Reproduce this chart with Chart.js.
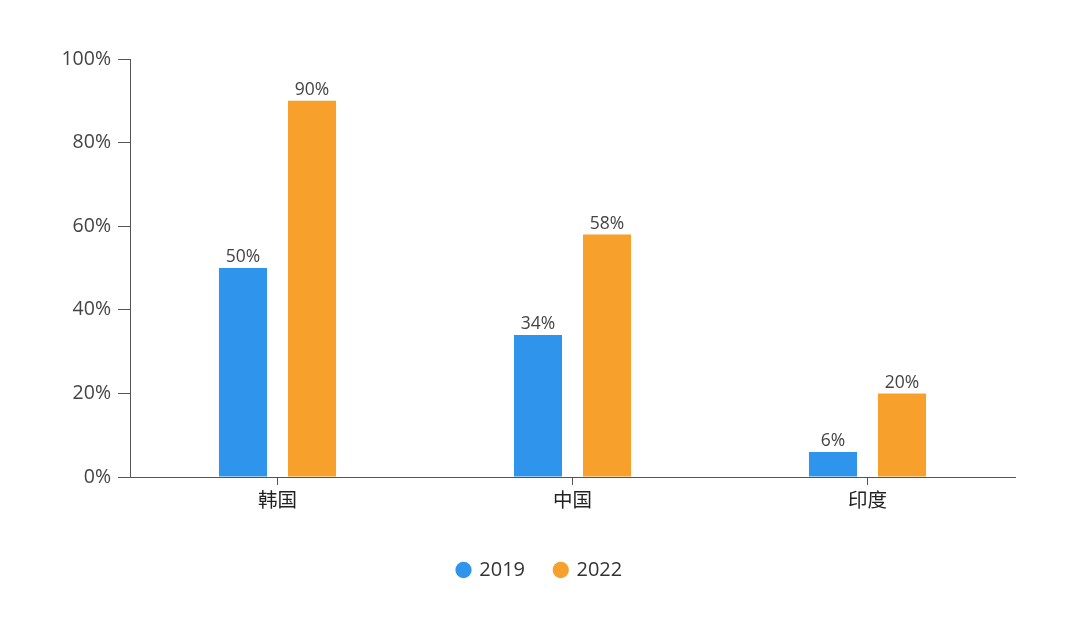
<!DOCTYPE html>
<html>
<head>
<meta charset="utf-8">
<script src="https://cdn.jsdelivr.net/npm/chart.js@4/dist/chart.umd.min.js"></script>
<style>
html,body{margin:0;padding:0;background:#fff;}
#wrap{width:1080px;height:624px;}
</style>
</head>
<body>
<div id="wrap"><canvas id="c" width="1080" height="624"></canvas></div>
<script>
const categories = ['韩国', '中国', '印度'];
const series2019 = [50, 34, 6];
const series2022 = [90, 58, 20];
const seriesNames = ['2019', '2022'];
const yTicks = [0, 20, 40, 60, 80, 100];

const valueLabels = {
  id: 'valueLabels',
  afterDatasetsDraw(chart) {
    const ctx = chart.ctx;
    ctx.save();
    ctx.font = '17.5px "Open Sans", sans-serif';
    ctx.fillStyle = '#444';
    ctx.textAlign = 'center';
    ctx.textBaseline = 'bottom';
    chart.data.datasets.forEach((ds, i) => {
      chart.getDatasetMeta(i).data.forEach((bar, j) => {
        ctx.fillText(ds.data[j] + '%', bar.x, bar.y - 2);
      });
    });
    ctx.restore();
  }
};

const centerLegend = {
  id: 'centerLegend',
  afterLayout(chart) {
    const lg = chart.legend;
    if (!lg) return;
    const shift = chart.width / 2 - (lg.left + lg.right) / 2;
    lg.left += shift;
    lg.right += shift;
    if (lg.legendHitBoxes) lg.legendHitBoxes.forEach(b => { b.left += shift; });
  }
};

new Chart(document.getElementById('c'), {
  type: 'bar',
  data: {
    labels: categories,
    datasets: [
      { label: seriesNames[0], data: series2019, backgroundColor: '#2F95EC' },
      { label: seriesNames[1], data: series2022, backgroundColor: '#F7A02B' }
    ]
  },
  options: {
    responsive: false,
    animation: false,
    devicePixelRatio: 1,
    categoryPercentage: 0.468,
    barPercentage: 0.696,
    layout: { padding: { left: 0, right: 65, top: 59, bottom: 34 } },
    plugins: {
      legend: {
        position: 'bottom',
        labels: {
          usePointStyle: true,
          pointStyle: 'circle',
          boxWidth: 11.5,
          boxHeight: 11.5,
          padding: 30,
          color: '#333',
          font: { size: 20, family: '"Open Sans", sans-serif' }
        }
      },
      tooltip: { enabled: false }
    },
    scales: {
      x: {
        grid: { display: true, drawOnChartArea: false, offset: false, tickLength: 8, color: '#555', tickColor: '#555' },
        border: { color: '#555', width: 1 },
        ticks: { color: '#222', font: { size: 19.5, family: '"Noto Sans CJK SC", sans-serif' }, padding: 3 },
        afterFit(scale) { scale.height = 53; }
      },
      y: {
        min: 0,
        max: 100,
        afterBuildTicks(scale) { scale.ticks = yTicks.map(v => ({ value: v })); },
        grid: { display: true, drawOnChartArea: false, tickLength: 12, color: '#555', tickColor: '#555' },
        border: { color: '#555', width: 1 },
        ticks: {
          color: '#444',
          padding: 7,
          font: { size: 19.5, family: '"Open Sans", sans-serif' },
          callback: v => v + '%'
        },
        afterFit(scale) { scale.width = 130; }
      }
    }
  },
  plugins: [valueLabels, centerLegend]
});
</script>
</body>
</html>
